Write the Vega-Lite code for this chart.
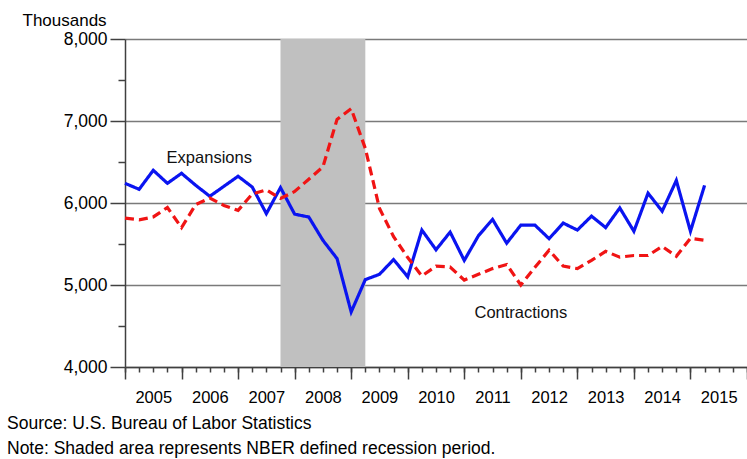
{
  "$schema": "https://vega.github.io/schema/vega-lite/v6.json",
  "width": 622,
  "height": 328,
  "autosize": {"type": "none"},
  "padding": {"left": 125, "top": 39, "right": 0, "bottom": 92},
  "background": "white",
  "config": {
    "view": {"stroke": null},
    "font": "Liberation Sans",
    "axis": {"labelFont": "Liberation Sans", "titleFont": "Liberation Sans", "labelColor": "#000", "titleColor": "#000", "domainColor": "#404040", "tickColor": "#404040", "domainWidth": 1.5, "tickWidth": 1.5}
  },
  "title": {
    "text": ["Source: U.S. Bureau of Labor Statistics", "Note: Shaded area represents NBER defined recession period."],
    "orient": "bottom",
    "anchor": "start",
    "frame": "group",
    "dx": -118,
    "offset": 9,
    "fontSize": 17.5,
    "fontWeight": "normal",
    "lineHeight": 25,
    "color": "#000",
    "font": "Liberation Sans"
  },
  "datasets": {
    "recession": [{"start": 2007.75, "end": 2009.25}],
    "jobs": [
      {"t": 2005.00, "series": "Expansions", "v": 6240},
      {"t": 2005.25, "series": "Expansions", "v": 6167},
      {"t": 2005.50, "series": "Expansions", "v": 6399},
      {"t": 2005.75, "series": "Expansions", "v": 6240},
      {"t": 2006.00, "series": "Expansions", "v": 6362},
      {"t": 2006.25, "series": "Expansions", "v": 6216},
      {"t": 2006.50, "series": "Expansions", "v": 6082},
      {"t": 2006.75, "series": "Expansions", "v": 6204},
      {"t": 2007.00, "series": "Expansions", "v": 6326},
      {"t": 2007.25, "series": "Expansions", "v": 6195},
      {"t": 2007.50, "series": "Expansions", "v": 5870},
      {"t": 2007.75, "series": "Expansions", "v": 6188},
      {"t": 2008.00, "series": "Expansions", "v": 5864},
      {"t": 2008.25, "series": "Expansions", "v": 5829},
      {"t": 2008.50, "series": "Expansions", "v": 5545},
      {"t": 2008.75, "series": "Expansions", "v": 5322},
      {"t": 2009.00, "series": "Expansions", "v": 4671},
      {"t": 2009.25, "series": "Expansions", "v": 5066},
      {"t": 2009.50, "series": "Expansions", "v": 5130},
      {"t": 2009.75, "series": "Expansions", "v": 5310},
      {"t": 2010.00, "series": "Expansions", "v": 5100},
      {"t": 2010.25, "series": "Expansions", "v": 5670},
      {"t": 2010.50, "series": "Expansions", "v": 5430},
      {"t": 2010.75, "series": "Expansions", "v": 5645},
      {"t": 2011.00, "series": "Expansions", "v": 5300},
      {"t": 2011.25, "series": "Expansions", "v": 5600},
      {"t": 2011.50, "series": "Expansions", "v": 5800},
      {"t": 2011.75, "series": "Expansions", "v": 5510},
      {"t": 2012.00, "series": "Expansions", "v": 5730},
      {"t": 2012.25, "series": "Expansions", "v": 5730},
      {"t": 2012.50, "series": "Expansions", "v": 5565},
      {"t": 2012.75, "series": "Expansions", "v": 5755},
      {"t": 2013.00, "series": "Expansions", "v": 5670},
      {"t": 2013.25, "series": "Expansions", "v": 5840},
      {"t": 2013.50, "series": "Expansions", "v": 5700},
      {"t": 2013.75, "series": "Expansions", "v": 5940},
      {"t": 2014.00, "series": "Expansions", "v": 5655},
      {"t": 2014.25, "series": "Expansions", "v": 6120},
      {"t": 2014.50, "series": "Expansions", "v": 5900},
      {"t": 2014.75, "series": "Expansions", "v": 6275},
      {"t": 2015.00, "series": "Expansions", "v": 5655},
      {"t": 2015.25, "series": "Expansions", "v": 6215},
      {"t": 2005.00, "series": "Contractions", "v": 5815},
      {"t": 2005.25, "series": "Contractions", "v": 5795},
      {"t": 2005.50, "series": "Contractions", "v": 5830},
      {"t": 2005.75, "series": "Contractions", "v": 5945},
      {"t": 2006.00, "series": "Contractions", "v": 5700},
      {"t": 2006.25, "series": "Contractions", "v": 5980},
      {"t": 2006.50, "series": "Contractions", "v": 6060},
      {"t": 2006.75, "series": "Contractions", "v": 5970},
      {"t": 2007.00, "series": "Contractions", "v": 5910},
      {"t": 2007.25, "series": "Contractions", "v": 6110},
      {"t": 2007.50, "series": "Contractions", "v": 6160},
      {"t": 2007.75, "series": "Contractions", "v": 6055},
      {"t": 2008.00, "series": "Contractions", "v": 6140},
      {"t": 2008.25, "series": "Contractions", "v": 6290},
      {"t": 2008.50, "series": "Contractions", "v": 6440},
      {"t": 2008.75, "series": "Contractions", "v": 7020},
      {"t": 2009.00, "series": "Contractions", "v": 7150},
      {"t": 2009.25, "series": "Contractions", "v": 6665},
      {"t": 2009.50, "series": "Contractions", "v": 5935},
      {"t": 2009.75, "series": "Contractions", "v": 5590},
      {"t": 2010.00, "series": "Contractions", "v": 5335},
      {"t": 2010.25, "series": "Contractions", "v": 5110},
      {"t": 2010.50, "series": "Contractions", "v": 5230},
      {"t": 2010.75, "series": "Contractions", "v": 5220},
      {"t": 2011.00, "series": "Contractions", "v": 5060},
      {"t": 2011.25, "series": "Contractions", "v": 5130},
      {"t": 2011.50, "series": "Contractions", "v": 5200},
      {"t": 2011.75, "series": "Contractions", "v": 5250},
      {"t": 2012.00, "series": "Contractions", "v": 5000},
      {"t": 2012.25, "series": "Contractions", "v": 5215},
      {"t": 2012.50, "series": "Contractions", "v": 5424},
      {"t": 2012.75, "series": "Contractions", "v": 5230},
      {"t": 2013.00, "series": "Contractions", "v": 5200},
      {"t": 2013.25, "series": "Contractions", "v": 5300},
      {"t": 2013.50, "series": "Contractions", "v": 5410},
      {"t": 2013.75, "series": "Contractions", "v": 5340},
      {"t": 2014.00, "series": "Contractions", "v": 5360},
      {"t": 2014.25, "series": "Contractions", "v": 5360},
      {"t": 2014.50, "series": "Contractions", "v": 5470},
      {"t": 2014.75, "series": "Contractions", "v": 5350},
      {"t": 2015.00, "series": "Contractions", "v": 5570},
      {"t": 2015.25, "series": "Contractions", "v": 5545}
    ]
  },
  "layer": [
    {
      "data": {"name": "recession"},
      "mark": {"type": "rect", "color": "#c0c0c0"},
      "encoding": {
        "x": {
          "field": "start", "type": "quantitative",
          "scale": {"domain": [2005, 2016], "nice": false, "zero": false},
          "axis": {
            "orient": "bottom", "title": null, "labels": false, "grid": false,
            "domain": true, "ticks": true, "tickSize": 5,
            "values": [2005, 2005.25, 2005.5, 2005.75, 2006, 2006.25, 2006.5, 2006.75, 2007, 2007.25, 2007.5, 2007.75, 2008, 2008.25, 2008.5, 2008.75, 2009, 2009.25, 2009.5, 2009.75, 2010, 2010.25, 2010.5, 2010.75, 2011, 2011.25, 2011.5, 2011.75, 2012, 2012.25, 2012.5, 2012.75, 2013, 2013.25, 2013.5, 2013.75, 2014, 2014.25, 2014.5, 2014.75, 2015, 2015.25, 2015.5, 2015.75, 2016]
          }
        },
        "x2": {"field": "end"}
      }
    },
    {
      "data": {"name": "jobs"},
      "mark": {"type": "line", "strokeWidth": 3.2},
      "encoding": {
        "x": {
          "field": "t", "type": "quantitative",
          "axis": {
            "orient": "bottom", "title": null, "labels": false, "grid": false,
            "domain": false, "ticks": true, "tickSize": 12,
            "values": [2005, 2006, 2007, 2008, 2009, 2010, 2011, 2012, 2013, 2014, 2015, 2016]
          }
        },
        "y": {
          "field": "v", "type": "quantitative",
          "scale": {"domain": [4000, 8000], "nice": false, "zero": false},
          "axis": {
            "orient": "left",
            "values": [4000, 5000, 6000, 7000, 8000],
            "format": ",d",
            "tickSize": 15, "labelPadding": 3, "labelFontSize": 17.5,
            "grid": true, "gridColor": "#7a7a7a", "gridWidth": 1.6,
            "domain": true,
            "title": "Thousands", "titleAngle": 0, "titleAlign": "left", "titleBaseline": "alphabetic",
            "titleX": -103, "titleY": -14, "titleFontSize": 17, "titleFontWeight": "normal"
          }
        },
        "color": {
          "field": "series", "type": "nominal",
          "scale": {"domain": ["Expansions", "Contractions"], "range": ["#0a14f0", "#f01414"]},
          "legend": null
        },
        "strokeDash": {
          "field": "series", "type": "nominal",
          "scale": {"domain": ["Expansions", "Contractions"], "range": [[1, 0], [9, 5]]},
          "legend": null
        }
      }
    },
    {
      "data": {"values": [{"label": "Expansions"}]},
      "mark": {"type": "text", "fontSize": 16.5, "align": "center", "baseline": "alphabetic", "color": "#111", "font": "Liberation Sans"},
      "encoding": {
        "x": {
          "datum": 2006.49, "type": "quantitative",
          "axis": {
            "orient": "bottom", "title": null, "grid": false, "domain": false,
            "ticks": false, "tickSize": 0, "labelPadding": 22, "labelFontSize": 16.5,
            "labelBaseline": "top",
            "values": [2005.5, 2006.5, 2007.5, 2008.5, 2009.5, 2010.5, 2011.5, 2012.5, 2013.5, 2014.5, 2015.5],
            "labelExpr": "floor(datum.value)"
          }
        },
        "y": {
          "datum": 6484, "type": "quantitative",
          "axis": {
            "orient": "left", "title": null, "labels": false, "grid": false, "domain": false,
            "ticks": true, "tickSize": 7,
            "values": [4500, 5500, 6500, 7500]
          }
        },
        "text": {"field": "label"}
      }
    },
    {
      "data": {"values": [{"label": "Contractions"}]},
      "mark": {"type": "text", "fontSize": 16.5, "align": "center", "baseline": "alphabetic", "color": "#111", "font": "Liberation Sans"},
      "encoding": {
        "x": {"datum": 2012.0, "type": "quantitative", "axis": null},
        "y": {"datum": 4594, "type": "quantitative", "axis": null},
        "text": {"field": "label"}
      }
    }
  ],
  "resolve": {"axis": {"x": "independent", "y": "independent"}}
}
